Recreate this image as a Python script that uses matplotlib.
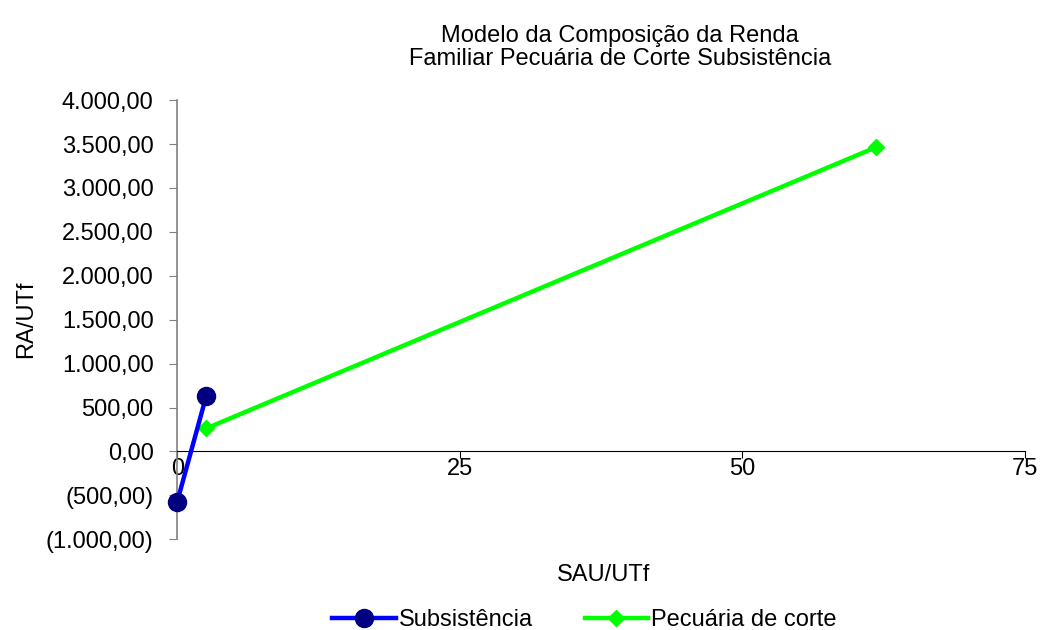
import matplotlib
matplotlib.use("Agg")
import matplotlib.pyplot as plt
from matplotlib.ticker import FuncFormatter, MultipleLocator

plt.rcParams['font.family'] = ['Liberation Sans', 'DejaVu Sans']

title = "Modelo da Composição da Renda\nFamiliar Pecuária de Corte Subsistência"
x_label = "SAU/UTf"
y_label = "RA/UTf"

subs_name = "Subsistência"
subs_x = [0.0, 2.55]
subs_y = [-570.0, 626.0]

pec_name = "Pecuária de corte"
pec_x = [2.55, 61.8]
pec_y = [262.0, 3462.0]

FS = 17


def br_number(v, pos=None):
    s = f"{abs(v):,.2f}".replace(",", "X").replace(".", ",").replace("X", ".")
    return f"({s})" if v < 0 else s


fig = plt.figure(figsize=(10.49, 6.30), dpi=100)
ax = fig.add_axes([0.169, 0.144, 0.808, 0.697])

ax.plot(subs_x, subs_y, color="#0000FF", lw=3.2, marker="o", ms=13,
        mfc="#000080", mec="#000080", label=subs_name, zorder=3,
        clip_on=False)
ax.plot(pec_x, pec_y, color="#00FF00", lw=3.2, marker="D", ms=8,
        mfc="#00FF00", mec="#00FF00", label=pec_name, zorder=2,
        clip_on=False)

ax.set_xlim(0, 75)
ax.set_ylim(-1000, 4000)
ax.xaxis.set_major_locator(MultipleLocator(25))
ax.yaxis.set_major_locator(MultipleLocator(500))
ax.yaxis.set_major_formatter(FuncFormatter(br_number))

for s in ("top", "right"):
    ax.spines[s].set_visible(False)
ax.spines["bottom"].set_position(("data", 0))
ax.spines["bottom"].set_color("black")
ax.spines["left"].set_color("#808080")
ax.spines["left"].set_linewidth(1.2)

ax.tick_params(axis="y", direction="out", length=6, color="#808080",
               labelsize=FS, pad=11)
ax.tick_params(axis="x", direction="out", length=5, color="black",
               labelsize=FS, pad=0)

ax.set_ylabel(y_label, fontsize=FS, labelpad=6)
fig.text(0.575, 0.088, x_label, fontsize=FS, ha="center", va="center")
fig.text(0.591, 0.924, title, fontsize=FS, ha="center", va="center",
         linespacing=1.05)

fig.legend(loc="center", bbox_to_anchor=(0.557, 0.016), ncol=2, frameon=False,
           fontsize=FS, handlelength=2.7, columnspacing=2.2, handletextpad=0.12,
           borderaxespad=0)

fig.savefig("out.png", dpi=100)
